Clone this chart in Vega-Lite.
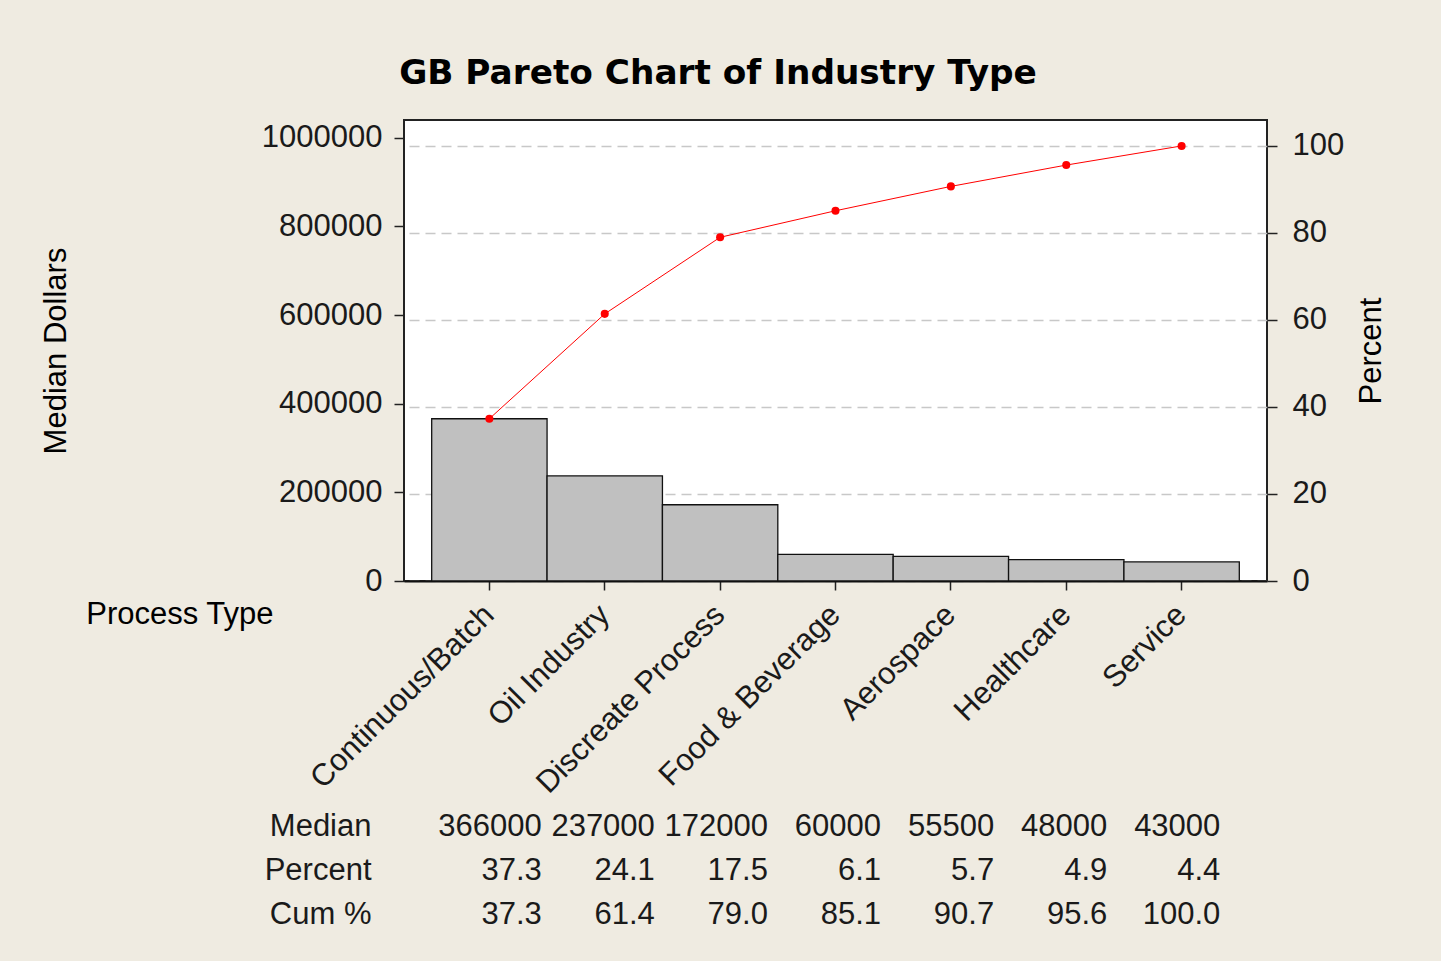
{
  "$schema": "https://vega.github.io/schema/vega-lite/v6.json",
  "background": "#EFEBE1",
  "padding": {"left": 39, "top": 56, "right": 58, "bottom": 28},
  "datasets": {
    "pareto": [
      {"type": "Continuous/Batch", "Median": 366000, "Percent": 37.3, "Cum %": 37.3},
      {"type": "Oil Industry", "Median": 237000, "Percent": 24.1, "Cum %": 61.4},
      {"type": "Discreate Process", "Median": 172000, "Percent": 17.5, "Cum %": 79.0},
      {"type": "Food & Beverage", "Median": 60000, "Percent": 6.1, "Cum %": 85.1},
      {"type": "Aerospace", "Median": 55500, "Percent": 5.7, "Cum %": 90.7},
      {"type": "Healthcare", "Median": 48000, "Percent": 4.9, "Cum %": 95.6},
      {"type": "Service", "Median": 43000, "Percent": 4.4, "Cum %": 100.0}
    ]
  },
  "title": {
    "text": "GB Pareto Chart of Industry Type",
    "font": "DejaVu Sans",
    "fontSize": 34.3,
    "fontWeight": "bold",
    "color": "#000000",
    "anchor": "middle",
    "frame": "bounds",
    "baseline": "alphabetic",
    "offset": 1,
    "dx": 5
  },
  "config": {
    "font": "Liberation Sans",
    "view": {"stroke": null},
    "axis": {
      "labelFont": "Liberation Sans",
      "labelFontSize": 31,
      "labelColor": "#1a1a1a",
      "labelLimit": 0,
      "titleFont": "Liberation Sans",
      "titleFontSize": 31,
      "titleFontWeight": "normal",
      "titleColor": "#000000",
      "tickColor": "#222222",
      "tickWidth": 1.5,
      "tickSize": 10,
      "domainColor": "#111111",
      "domainWidth": 2
    }
  },
  "spacing": 5,
  "vconcat": [
    {
      "width": 863,
      "height": 461,
      "view": {"fill": "#ffffff", "stroke": "#222222", "strokeWidth": 2},
      "data": {"name": "pareto"},
      "encoding": {
        "x": {
          "field": "type",
          "type": "nominal",
          "sort": null,
          "scale": {"paddingInner": 0, "paddingOuter": 0.24},
          "axis": {
            "title": "Process Type",
            "titleX": -131,
            "titleY": 33,
            "titleAlign": "right",
            "titleBaseline": "middle",
            "titleAngle": 0,
            "labelAngle": -45,
            "labelAlign": "right",
            "labelBaseline": "middle",
            "labelPadding": 20,
            "tickSize": 9,
            "domain": true
          }
        }
      },
      "layer": [
        {
          "mark": {"type": "bar", "fill": "#C0C0C0", "stroke": "#111111", "strokeWidth": 1.3},
          "encoding": {
            "y": {
              "field": "Median",
              "type": "quantitative",
              "scale": {"domain": [0, 1040000], "nice": false},
              "axis": {
                "title": "Median Dollars",
                "orient": "left",
                "grid": false,
                "format": "d",
                "values": [0, 200000, 400000, 600000, 800000, 1000000],
                "labelPadding": 12,
                "domain": false,
                "titleX": -348,
                "titleY": 230.5,
                "titleAngle": -90,
                "titleAlign": "center",
                "titleBaseline": "middle"
              }
            }
          }
        },
        {
          "encoding": {
            "y": {
              "field": "Cum %",
              "type": "quantitative",
              "scale": {"domain": [0, 105.96], "nice": false},
              "axis": {
                "title": "Percent",
                "orient": "right",
                "grid": true,
                "gridColor": "#C8C8C8",
                "gridDash": [10, 6],
                "gridWidth": 1.5,
                "values": [0, 20, 40, 60, 80, 100],
                "labelPadding": 15,
                "domain": false,
                "titleX": 104,
                "titleY": 230.5,
                "titleAngle": -90,
                "titleAlign": "center",
                "titleBaseline": "middle"
              }
            }
          },
          "layer": [
            {"mark": {"type": "line", "color": "#FF0000", "strokeWidth": 1}},
            {"mark": {"type": "point", "filled": true, "color": "#FF0000", "size": 65, "opacity": 1}}
          ]
        }
      ],
      "resolve": {"scale": {"y": "independent"}}
    },
    {
      "width": 841,
      "height": 132,
      "view": {"stroke": null, "fill": null},
      "data": {"name": "pareto"},
      "transform": [{"fold": ["Median", "Percent", "Cum %"], "as": ["row", "value"]}],
      "mark": {"type": "text", "align": "right", "baseline": "middle", "fontSize": 31, "font": "Liberation Sans", "color": "#1a1a1a"},
      "encoding": {
        "x": {
          "field": "type",
          "type": "nominal",
          "sort": null,
          "bandPosition": 1,
          "scale": {"type": "band", "paddingInner": 0, "paddingOuter": 0.218},
          "axis": null
        },
        "y": {
          "field": "row",
          "type": "nominal",
          "sort": ["Median", "Percent", "Cum %"],
          "bandPosition": 0.5,
          "scale": {"type": "band", "paddingInner": 0, "paddingOuter": 0},
          "axis": {"title": null, "domain": false, "ticks": false, "labelPadding": 33, "labelAlign": "right"}
        },
        "text": {
          "condition": {"test": "datum.row === 'Median'", "field": "value", "type": "quantitative", "format": "d"},
          "field": "value",
          "type": "quantitative",
          "format": ".1f"
        }
      }
    }
  ]
}
